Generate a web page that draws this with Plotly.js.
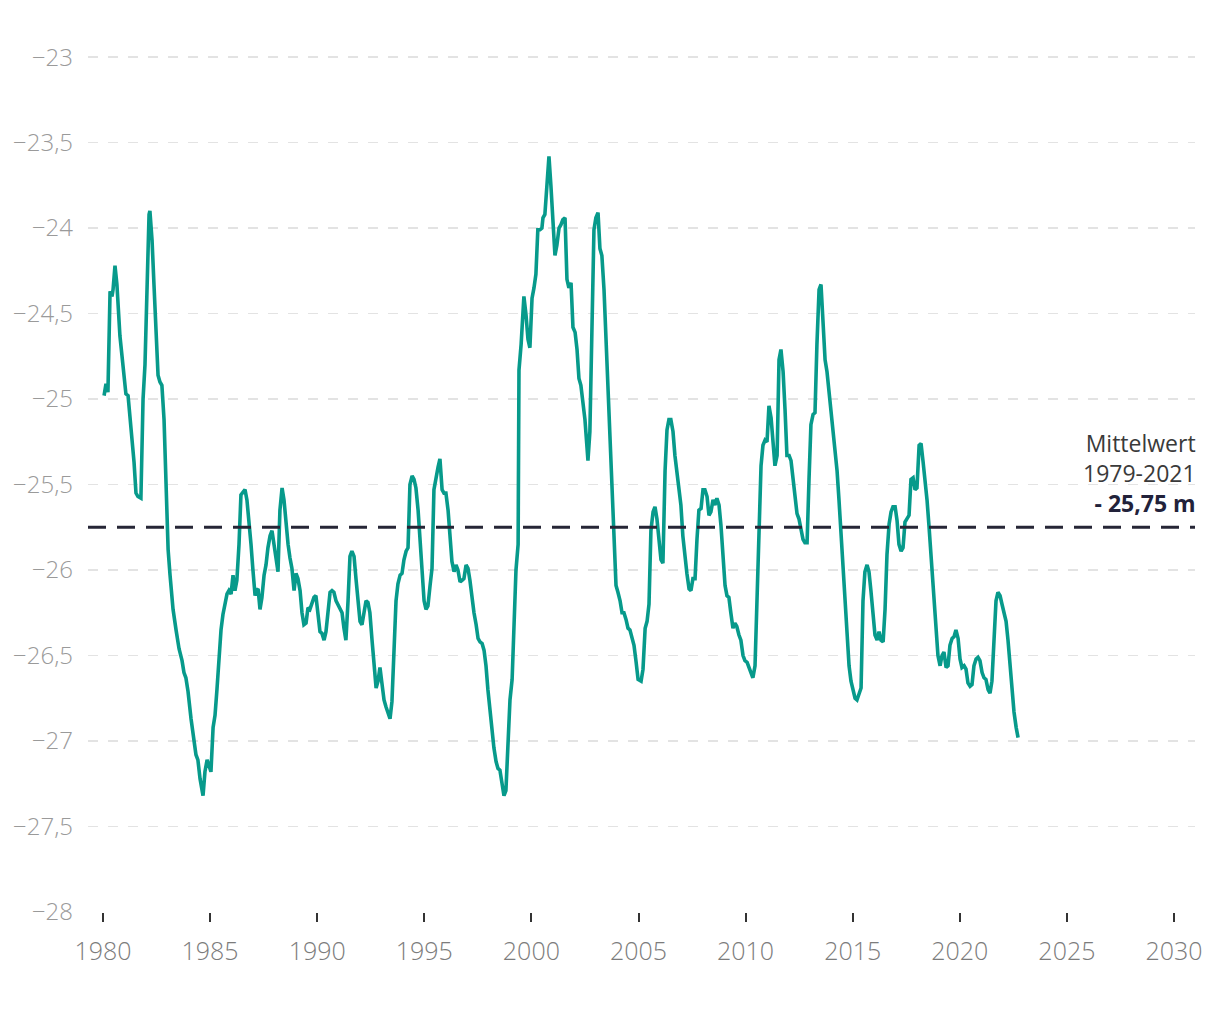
<!DOCTYPE html>
<html>
<head>
<meta charset="utf-8">
<script src="https://cdn.plot.ly/plotly-3.0.1.min.js"></script>
<style>
html,body{margin:0;padding:0;background:#fff;}
#chart{width:1220px;height:1020px;}
</style>
</head>
<body>
<div id="chart"></div>
<script>
const years = [
1980.05,1980.14,1980.23,1980.33,1980.42,1980.47,1980.56,1980.65,1980.79,1980.89,1980.98,1981.07,1981.17,1981.26,1981.35,1981.45,1981.54,1981.63,1981.77,1981.87,1981.96,
1982.05,1982.15,1982.19,1982.29,1982.38,1982.47,1982.57,1982.66,1982.75,1982.85,1982.94,1983.04,1983.13,1983.27,1983.41,1983.55,1983.69,1983.78,1983.87,1983.97,
1984.11,1984.25,1984.34,1984.43,1984.53,1984.67,1984.76,1984.86,1984.95,1985.04,1985.14,1985.23,1985.32,1985.42,1985.51,1985.60,1985.70,1985.79,1985.88,1985.98,
1986.07,1986.16,1986.25,1986.35,1986.44,1986.54,1986.63,1986.72,1986.82,1986.91,1987.00,1987.10,1987.15,1987.24,1987.33,1987.42,1987.52,1987.61,1987.70,1987.80,1987.89,1987.98,
1988.08,1988.17,1988.26,1988.36,1988.45,1988.54,1988.64,1988.73,1988.82,1988.92,1989.01,1989.10,1989.20,1989.29,1989.38,1989.48,1989.57,1989.66,1989.76,1989.85,1989.94,
1990.04,1990.13,1990.22,1990.32,1990.41,1990.50,1990.60,1990.69,1990.78,1990.88,1990.97,1991.06,1991.16,1991.25,1991.34,1991.44,1991.53,1991.62,1991.72,1991.81,1991.90,
1992.00,1992.09,1992.18,1992.28,1992.37,1992.46,1992.56,1992.65,1992.75,1992.84,1992.93,1993.03,1993.12,1993.21,1993.31,1993.40,1993.49,1993.59,1993.68,1993.77,1993.87,1993.96,
1994.05,1994.15,1994.24,1994.33,1994.43,1994.52,1994.61,1994.71,1994.80,1994.89,1994.99,1995.08,1995.17,1995.27,1995.36,1995.45,1995.55,1995.64,1995.73,1995.83,1995.92,
1996.01,1996.11,1996.20,1996.29,1996.39,1996.48,1996.57,1996.67,1996.76,1996.85,1996.95,1997.04,1997.13,1997.23,1997.32,1997.42,1997.51,1997.60,1997.70,1997.79,1997.88,1997.97,
1998.07,1998.16,1998.25,1998.35,1998.44,1998.53,1998.63,1998.72,1998.81,1998.91,1999.00,1999.10,1999.19,1999.28,1999.38,1999.42,1999.52,1999.61,1999.65,1999.75,1999.84,1999.93,
2000.03,2000.12,2000.21,2000.30,2000.40,2000.49,2000.54,2000.63,2000.73,2000.82,2000.91,2001.01,2001.10,2001.19,2001.29,2001.38,2001.47,2001.57,2001.66,2001.75,2001.85,2001.94,
2002.04,2002.13,2002.22,2002.31,2002.41,2002.50,2002.60,2002.64,2002.73,2002.82,2002.92,2003.01,2003.11,2003.20,2003.29,2003.39,2003.48,2003.58,2003.67,2003.76,2003.86,2003.95,
2004.04,2004.14,2004.23,2004.32,2004.42,2004.51,2004.60,2004.70,2004.79,2004.89,2004.98,2005.12,2005.21,2005.31,2005.40,2005.49,2005.58,2005.68,2005.77,2005.86,2005.96,
2006.05,2006.14,2006.24,2006.33,2006.42,2006.51,2006.61,2006.70,2006.79,2006.89,2006.98,2007.07,2007.17,2007.26,2007.36,2007.45,2007.54,2007.64,2007.73,2007.82,2007.92,
2008.01,2008.10,2008.20,2008.29,2008.38,2008.48,2008.57,2008.66,2008.76,2008.85,2008.94,2009.04,2009.13,2009.22,2009.31,2009.41,2009.50,2009.59,2009.69,2009.78,2009.88,2009.97,
2010.07,2010.16,2010.25,2010.34,2010.44,2010.53,2010.63,2010.72,2010.81,2010.91,2011.00,2011.09,2011.19,2011.28,2011.37,2011.47,2011.56,2011.65,2011.75,2011.84,2011.93,
2012.03,2012.12,2012.21,2012.31,2012.40,2012.49,2012.59,2012.68,2012.77,2012.87,2012.96,2013.05,2013.15,2013.24,2013.33,2013.43,2013.52,2013.61,2013.71,2013.80,2013.89,2013.99,
2014.08,2014.17,2014.27,2014.36,2014.45,2014.55,2014.64,2014.73,2014.83,2014.92,2015.01,2015.11,2015.20,2015.29,2015.39,2015.48,2015.57,2015.67,2015.76,2015.85,2015.95,
2016.04,2016.14,2016.23,2016.32,2016.42,2016.51,2016.60,2016.70,2016.79,2016.88,2016.98,2017.07,2017.16,2017.26,2017.35,2017.44,2017.54,2017.63,2017.72,2017.82,2017.91,
2018.00,2018.10,2018.19,2018.28,2018.38,2018.47,2018.56,2018.66,2018.75,2018.84,2018.94,2018.98,2019.08,2019.17,2019.26,2019.36,2019.45,2019.54,2019.64,2019.73,2019.82,2019.92,
2020.01,2020.10,2020.20,2020.29,2020.38,2020.48,2020.57,2020.66,2020.76,2020.85,2020.94,2021.04,2021.13,2021.22,2021.32,2021.41,2021.50,2021.60,2021.69,2021.78,2021.88,2021.97,
2022.07,2022.16,2022.25,2022.34,2022.44,2022.53,2022.63,2022.72
];
const level = [
-24.98,-24.91,-24.96,-24.37,-24.40,-24.36,-24.22,-24.33,-24.63,-24.75,-24.89,-24.97,-24.98,-25.11,-25.21,-25.37,-25.55,-25.57,-25.58,-25.00,-24.80,
-24.33,-23.92,-23.90,-24.07,-24.33,-24.60,-24.86,-24.90,-24.92,-25.12,-25.53,-25.88,-26.03,-26.23,-26.35,-26.46,-26.53,-26.60,-26.63,-26.71,
-26.87,-26.99,-27.08,-27.11,-27.22,-27.32,-27.18,-27.11,-27.14,-27.18,-26.92,-26.85,-26.70,-26.47,-26.35,-26.26,-26.20,-26.14,-26.12,-26.14,
-26.03,-26.12,-26.06,-25.85,-25.56,-25.54,-25.53,-25.59,-25.71,-25.85,-26.00,-26.15,-26.12,-26.11,-26.23,-26.16,-26.03,-25.97,-25.87,-25.80,-25.77,-25.85,
-25.94,-26.01,-25.65,-25.52,-25.59,-25.74,-25.85,-25.93,-25.99,-26.12,-26.02,-26.05,-26.12,-26.25,-26.32,-26.31,-26.22,-26.23,-26.20,-26.16,-26.15,
-26.25,-26.36,-26.37,-26.41,-26.36,-26.23,-26.13,-26.12,-26.13,-26.18,-26.20,-26.22,-26.25,-26.34,-26.41,-26.18,-25.92,-25.89,-25.92,-26.05,-26.18,
-26.30,-26.32,-26.25,-26.18,-26.19,-26.25,-26.41,-26.54,-26.69,-26.65,-26.57,-26.67,-26.76,-26.80,-26.83,-26.87,-26.77,-26.47,-26.18,-26.08,-26.03,-26.02,
-25.94,-25.89,-25.87,-25.50,-25.45,-25.47,-25.52,-25.65,-25.82,-26.03,-26.18,-26.23,-26.21,-26.09,-25.99,-25.53,-25.45,-25.40,-25.35,-25.53,-25.55,
-25.55,-25.65,-25.82,-25.95,-26.01,-25.97,-26.00,-26.07,-26.06,-26.05,-25.97,-25.99,-26.06,-26.18,-26.25,-26.32,-26.40,-26.42,-26.43,-26.47,-26.56,-26.70,
-26.83,-26.94,-27.04,-27.12,-27.16,-27.17,-27.26,-27.32,-27.29,-26.99,-26.76,-26.64,-26.29,-26.00,-25.85,-24.83,-24.68,-24.45,-24.40,-24.51,-24.65,-24.70,
-24.41,-24.35,-24.27,-24.01,-24.01,-24.00,-23.94,-23.92,-23.75,-23.58,-23.75,-23.98,-24.16,-24.10,-24.00,-23.98,-23.95,-23.94,-24.30,-24.35,-24.32,-24.58,
-24.61,-24.71,-24.88,-24.92,-25.01,-25.12,-25.29,-25.36,-25.19,-24.60,-24.01,-23.94,-23.91,-24.12,-24.16,-24.36,-24.65,-24.96,-25.27,-25.56,-25.85,-26.09,
-26.13,-26.18,-26.25,-26.25,-26.29,-26.34,-26.35,-26.39,-26.44,-26.54,-26.64,-26.65,-26.58,-26.34,-26.30,-26.20,-25.77,-25.66,-25.63,-25.70,-25.82,
-25.94,-25.96,-25.42,-25.18,-25.12,-25.12,-25.19,-25.33,-25.42,-25.50,-25.62,-25.80,-25.94,-26.02,-26.11,-26.12,-26.05,-26.05,-25.82,-25.65,-25.64,
-25.53,-25.53,-25.57,-25.68,-25.66,-25.59,-25.62,-25.58,-25.62,-25.74,-25.91,-26.09,-26.15,-26.16,-26.25,-26.34,-26.31,-26.33,-26.38,-26.41,-26.50,-26.53,
-26.54,-26.57,-26.60,-26.63,-26.56,-26.18,-25.77,-25.39,-25.27,-25.24,-25.25,-25.04,-25.11,-25.24,-25.39,-25.33,-24.77,-24.71,-24.84,-25.06,-25.33,
-25.33,-25.36,-25.46,-25.58,-25.67,-25.70,-25.77,-25.82,-25.84,-25.84,-25.47,-25.15,-25.09,-25.08,-24.68,-24.36,-24.33,-24.54,-24.77,-24.84,-24.95,-25.06,
-25.18,-25.31,-25.42,-25.59,-25.77,-25.94,-26.12,-26.32,-26.56,-26.65,-26.69,-26.75,-26.76,-26.72,-26.69,-26.18,-26.01,-25.97,-26.01,-26.12,-26.25,
-26.38,-26.41,-26.36,-26.41,-26.42,-26.23,-25.91,-25.73,-25.66,-25.63,-25.63,-25.71,-25.85,-25.89,-25.87,-25.72,-25.70,-25.68,-25.47,-25.46,-25.53,
-25.52,-25.27,-25.26,-25.36,-25.46,-25.59,-25.74,-25.91,-26.09,-26.23,-26.40,-26.50,-26.56,-26.50,-26.48,-26.57,-26.56,-26.44,-26.40,-26.39,-26.35,-26.40,
-26.52,-26.57,-26.56,-26.58,-26.66,-26.68,-26.67,-26.56,-26.52,-26.51,-26.53,-26.60,-26.63,-26.64,-26.70,-26.72,-26.65,-26.41,-26.18,-26.13,-26.15,-26.20,
-26.25,-26.30,-26.41,-26.56,-26.70,-26.83,-26.92,-26.98
];
const meanValue = -25.75;
const meanLabel = ["Mittelwert", "1979-2021", "- 25,75 m"];
const xTicks = [1980,1985,1990,1995,2000,2005,2010,2015,2020,2025,2030];
const yTicks = [-28,-27.5,-27,-26.5,-26,-25.5,-25,-24.5,-24,-23.5,-23];

const FONT = '"Open Sans", "DejaVu Sans", sans-serif';

const traces = [{
  x: years, y: level, type: 'scatter', mode: 'lines',
  line: {color: '#079a8b', width: 3.6},
  hoverinfo: 'skip', showlegend: false
}];

const layout = {
  width: 1220, height: 1020,
  margin: {l: 88, r: 25, t: 40, b: 108},
  paper_bgcolor: '#fff', plot_bgcolor: '#fff',
  separators: ',.',
  font: {family: FONT, color: '#999'},
  showlegend: false,
  xaxis: {
    range: [1979.3, 2030.98],
    tickvals: xTicks, ticktext: xTicks.map(String),
    showgrid: false, zeroline: false, showline: false,
    ticks: 'outside', ticklen: 9, tickwidth: 2, tickcolor: '#333',
    ticklabelstandoff: 8,
    tickfont: {family: FONT, size: 25, weight: 300, color: '#7c7c7c'},
    fixedrange: true
  },
  yaxis: {
    range: [-28.0, -22.9],
    tickvals: yTicks,
    showgrid: true, gridcolor: '#e3e3e3', gridwidth: 1.5, griddash: '10px,10px',
    zeroline: false, showline: false, ticks: '',
    ticklabelstandoff: 14,
    tickfont: {family: FONT, size: 24, weight: 300, color: '#9a9a9a'},
    fixedrange: true
  },
  shapes: [{
    type: 'line', xref: 'paper', yref: 'y', x0: 0, x1: 1, y0: meanValue, y1: meanValue,
    line: {color: '#262636', width: 3, dash: '18px,11px'}
  }],
  annotations: [{
    xref: 'paper', yref: 'y', x: 1, y: meanValue, xanchor: 'right', yanchor: 'bottom',
    xshift: 3, yshift: 6, align: 'right', showarrow: false,
    text: meanLabel[0] + '<br>' + meanLabel[1] + '<br><b style="color:#22223a">' + meanLabel[2] + '</b>',
    font: {family: FONT, size: 23, color: '#3a3a3a'}
  }]
};

Plotly.newPlot('chart', traces, layout, {displayModeBar: false, staticPlot: true});
</script>
</body>
</html>
